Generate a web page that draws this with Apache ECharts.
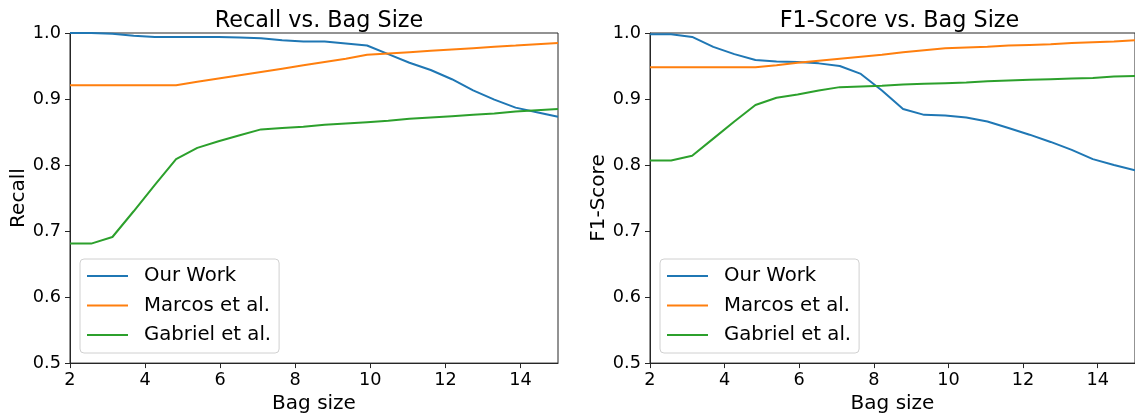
<!DOCTYPE html>
<html><head><meta charset="utf-8">
<script src="https://cdn.jsdelivr.net/npm/echarts@6/dist/echarts.min.js"></script>
<style>html,body{margin:0;padding:0;background:#fff}#c{width:1135px;height:419px}</style>
</head><body><div id="c"></div>
<script>
const bagSizes = [2, 2.565, 3.130, 3.696, 4.261, 4.826, 5.391, 5.957, 6.522, 7.087, 7.652, 8.217,
  8.783, 9.348, 9.913, 10.478, 11.043, 11.609, 12.174, 12.739, 13.304, 13.870, 14.435, 15];
const seriesNames = ['Our Work', 'Marcos et al.', 'Gabriel et al.'];
const recallOurs = [1.0, 1.0, 0.999, 0.996, 0.994, 0.994, 0.994, 0.994, 0.993, 0.992, 0.989, 0.987,
  0.987, 0.984, 0.981, 0.968, 0.955, 0.944, 0.930, 0.913, 0.899, 0.887, 0.880, 0.873];
const recallMarcos = [0.921, 0.921, 0.921, 0.921, 0.921, 0.921, 0.926, 0.931, 0.936, 0.941, 0.946, 0.951,
  0.956, 0.961, 0.967, 0.969, 0.971, 0.973, 0.975, 0.977, 0.979, 0.981, 0.983, 0.985];
const recallGabriel = [0.681, 0.681, 0.691, 0.730, 0.770, 0.809, 0.826, 0.836, 0.845, 0.854, 0.856, 0.858,
  0.861, 0.863, 0.865, 0.867, 0.870, 0.872, 0.874, 0.876, 0.878, 0.881, 0.883, 0.885];
const f1Ours = [0.998, 0.998, 0.994, 0.979, 0.968, 0.959, 0.957, 0.956, 0.954, 0.950, 0.938, 0.913,
  0.885, 0.876, 0.875, 0.872, 0.866, 0.856, 0.846, 0.835, 0.823, 0.809, 0.800, 0.792];
const f1Marcos = [0.948, 0.948, 0.948, 0.948, 0.948, 0.948, 0.951, 0.955, 0.958, 0.961, 0.964, 0.967,
  0.971, 0.974, 0.977, 0.978, 0.979, 0.981, 0.982, 0.983, 0.985, 0.986, 0.987, 0.989];
const f1Gabriel = [0.807, 0.807, 0.814, 0.840, 0.866, 0.891, 0.902, 0.907, 0.913, 0.918, 0.919, 0.920,
  0.922, 0.923, 0.924, 0.925, 0.927, 0.928, 0.929, 0.930, 0.931, 0.932, 0.934, 0.935];
const colors = ['#1f77b4', '#ff7f0e', '#2ca02c'];
const titles = ['Recall vs. Bag Size', 'F1-Score vs. Bag Size'];
const yNames = ['Recall', 'F1-Score'];

const FONT = 'DejaVu Sans';
const AX = '#262626';
const chart = echarts.init(document.getElementById('c'), null, {renderer: 'canvas'});
const pair = (xs, ys) => xs.map((x, i) => [x, ys[i]]);
const panels = [[recallOurs, recallMarcos, recallGabriel], [f1Ours, f1Marcos, f1Gabriel]];
const grids = [
  {left: 70, top: 33, width: 488, height: 332},
  {left: 650, top: 33, width: 489, height: 332}
];
const series = [];
panels.forEach((p, gi) => p.forEach((ys, si) => series.push({
  type: 'line', name: seriesNames[si], xAxisIndex: gi, yAxisIndex: gi,
  data: pair(bagSizes, ys), symbol: 'none', smooth: false,
  lineStyle: {width: 2, color: colors[si]}, itemStyle: {color: colors[si]}, z: 3
})));

chart.setOption({
  animation: false,
  textStyle: {fontFamily: FONT},
  title: titles.map((t, i) => ({
    text: t, left: grids[i].left + grids[i].width / 2, top: 5, textAlign: 'center',
    textStyle: {fontFamily: FONT, fontSize: 22.3, fontWeight: 'normal', color: '#000'}
  })),
  grid: grids.map(g => Object.assign({show: true, borderColor: AX, borderWidth: 1, backgroundColor: 'transparent'}, g)),
  xAxis: grids.map((g, i) => ({
    type: 'value', gridIndex: i, min: 2, max: 15, interval: 2,
    name: 'Bag size', nameLocation: 'middle', nameGap: 27,
    nameTextStyle: {fontFamily: FONT, fontSize: 20, color: '#000'},
    axisLine: {show: true, onZero: false, lineStyle: {color: AX, width: 1}},
    axisTick: {show: true, inside: false, length: 5, lineStyle: {color: AX}},
    axisLabel: {fontFamily: FONT, fontSize: 17.7, color: '#000', margin: 8, showMaxLabel: false},
    splitLine: {show: false}
  })),
  yAxis: grids.map((g, i) => ({
    type: 'value', gridIndex: i, min: 0.5, max: 1.0, interval: 0.1,
    name: yNames[i], nameLocation: 'middle', nameGap: 40, nameRotate: 90,
    nameTextStyle: {fontFamily: FONT, fontSize: 20, color: '#000'},
    axisLine: {show: true, onZero: false, lineStyle: {color: AX, width: 1}},
    axisTick: {show: true, inside: false, length: 5, lineStyle: {color: AX}},
    axisLabel: {fontFamily: FONT, fontSize: 17.7, color: '#000', margin: 9,
      formatter: v => v.toFixed(1)},
    splitLine: {show: false}
  })),
  legend: grids.map((g, i) => ({
    data: seriesNames, orient: 'vertical', left: g.left + 10, top: 259,
    icon: 'rect', itemWidth: 41, itemHeight: 2, itemGap: 7.5,
    backgroundColor: 'rgba(255,255,255,0.8)', borderColor: '#d0d0d0', borderWidth: 1, borderRadius: 4,
    padding: [6, 8, 7, 7],
    selectedMode: false,
    textStyle: {fontFamily: FONT, fontSize: 19.7, color: '#000', lineHeight: 22, padding: [0, 0, 0, 11]}
  })),
  series: series
});
</script></body></html>
